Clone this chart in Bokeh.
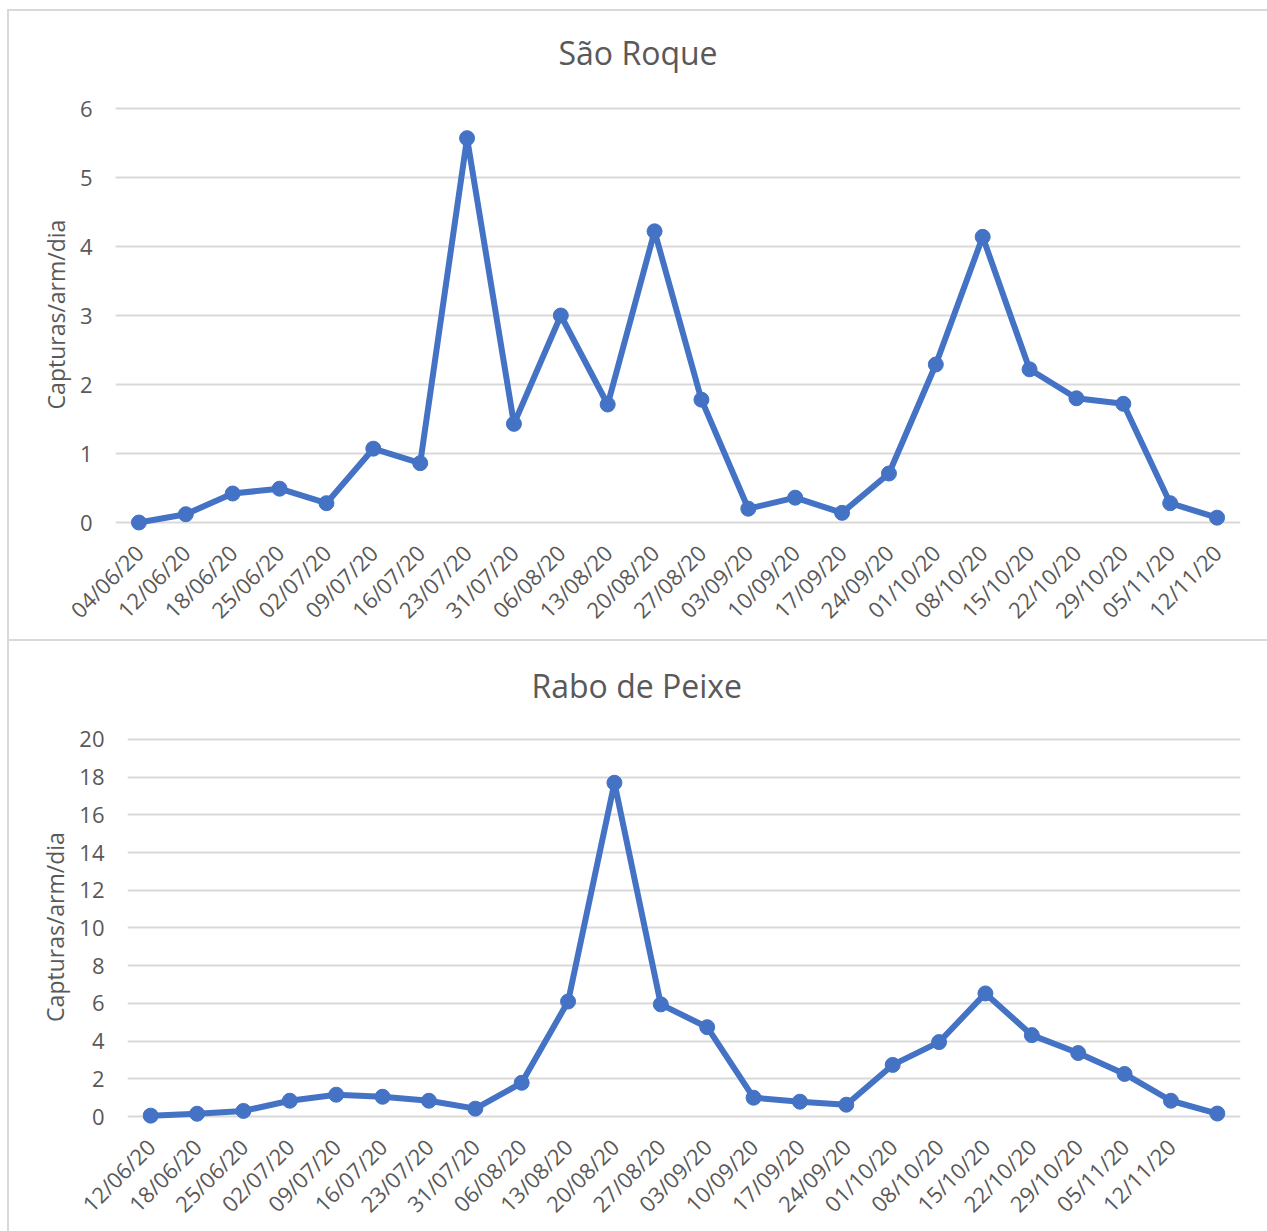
import math
from bokeh.plotting import figure
from bokeh.models import Range1d, FixedTicker
from bokeh.embed import file_html
from bokeh.resources import INLINE

# ---------------- data ----------------
sr_labels = ["04/06/20", "12/06/20", "18/06/20", "25/06/20", "02/07/20", "09/07/20",
             "16/07/20", "23/07/20", "31/07/20", "06/08/20", "13/08/20", "20/08/20",
             "27/08/20", "03/09/20", "10/09/20", "17/09/20", "24/09/20", "01/10/20",
             "08/10/20", "15/10/20", "22/10/20", "29/10/20", "05/11/20", "12/11/20"]
sr_values = [0.0, 0.12, 0.42, 0.49, 0.28, 1.07, 0.86, 5.57, 1.43, 3.0, 1.71, 4.22,
             1.78, 0.20, 0.36, 0.14, 0.71, 2.29, 4.14, 2.22, 1.80, 1.72, 0.28, 0.07]

rp_labels = ["12/06/20", "18/06/20", "25/06/20", "02/07/20", "09/07/20", "16/07/20",
             "23/07/20", "31/07/20", "06/08/20", "13/08/20", "20/08/20", "27/08/20",
             "03/09/20", "10/09/20", "17/09/20", "24/09/20", "01/10/20", "08/10/20",
             "15/10/20", "22/10/20", "29/10/20", "05/11/20", "12/11/20"]
rp_values = [0.05, 0.15, 0.30, 0.84, 1.16, 1.05, 0.84, 0.42, 1.79, 6.1, 17.7, 5.95,
             4.74, 1.0, 0.79, 0.63, 2.74, 3.95, 6.53, 4.32, 3.37, 2.26, 0.84, 0.16]

sr_yticks = [0, 1, 2, 3, 4, 5, 6]
rp_yticks = [0, 2, 4, 6, 8, 10, 12, 14, 16, 18, 20]

LINE = "#4472C4"
TXT = "#595959"
GRID = "#D9D9D9"
FONT = "Open Sans"
W = 1267


def make_chart(title, labels, values, yticks, height, bl, bt, bb, ypad_lo, ypad_hi,
               title_off, title_standoff, border_y):
    n = len(values)
    xs = list(range(n))
    p = figure(width=W, height=height, output_backend="svg", toolbar_location=None,
               x_range=Range1d(-0.5, n - 0.5),
               y_range=Range1d(yticks[0] - ypad_lo, yticks[-1] + ypad_hi),
               min_border_left=bl, min_border_right=27, min_border_top=bt,
               min_border_bottom=bb)
    p.title.text = title
    p.title.text_font = FONT
    p.title.text_font_size = "32px"
    p.title.text_font_style = "normal"
    p.title.text_color = TXT
    p.title.align = "left"
    p.title.offset = title_off
    p.title.standoff = title_standoff
    p.outline_line_color = None
    p.background_fill_color = "white"
    p.border_fill_color = None
    p.styles = {
        "background-color": "#FFFFFF",
        "background-image": "linear-gradient(#D9D9D9, #D9D9D9), linear-gradient(#D9D9D9, #D9D9D9)",
        "background-position": f"7px {border_y}px, 7px {border_y}px",
        "background-size": "2px 100%, 100% 2px",
        "background-repeat": "no-repeat, no-repeat",
    }

    p.xgrid.grid_line_color = None
    p.ygrid.grid_line_color = GRID
    p.ygrid.grid_line_width = 2
    p.ygrid.ticker = FixedTicker(ticks=yticks)

    ya = p.yaxis[0]
    ya.ticker = FixedTicker(ticks=yticks)
    ya.axis_line_color = None
    ya.major_tick_line_color = None
    ya.minor_tick_line_color = None
    ya.major_tick_out = 0
    ya.major_tick_in = 0
    ya.major_label_standoff = 23
    ya.major_label_text_font = FONT
    ya.major_label_text_font_size = "22px"
    ya.major_label_text_color = TXT
    ya.axis_label = "Capturas/arm/dia"
    ya.axis_label_text_font = FONT
    ya.axis_label_text_font_size = "23px"
    ya.axis_label_text_font_style = "normal"
    ya.axis_label_text_color = TXT
    ya.axis_label_standoff = 5

    xa = p.xaxis[0]
    xa.ticker = FixedTicker(ticks=list(range(len(labels))))
    xa.major_label_overrides = {i: lab for i, lab in enumerate(labels)}
    xa.axis_line_color = None
    xa.major_tick_line_color = None
    xa.minor_tick_line_color = None
    xa.major_tick_out = 0
    xa.major_tick_in = 0
    xa.major_label_standoff = 16
    xa.major_label_orientation = math.pi / 4
    xa.major_label_text_font = FONT
    xa.major_label_text_font_size = "22px"
    xa.major_label_text_color = TXT

    p.line(xs, values, line_color=LINE, line_width=6, line_join="round")
    p.scatter(xs, values, size=15, fill_color=LINE, line_color=LINE)
    return p


top = make_chart("São Roque", sr_labels, sr_values, sr_yticks, 639,
                 bl=115, bt=96, bb=107, ypad_lo=10 / 69, ypad_hi=12 / 69,
                 title_off=443, title_standoff=45, border_y=9)
bot = make_chart("Rabo de Peixe", rp_labels, rp_values, rp_yticks, 592,
                 bl=127, bt=88, bb=102, ypad_lo=10 / 19, ypad_hi=12 / 19,
                 title_off=404, title_standoff=42, border_y=0)

open("out.html", "w").write(file_html([top, bot], INLINE))
